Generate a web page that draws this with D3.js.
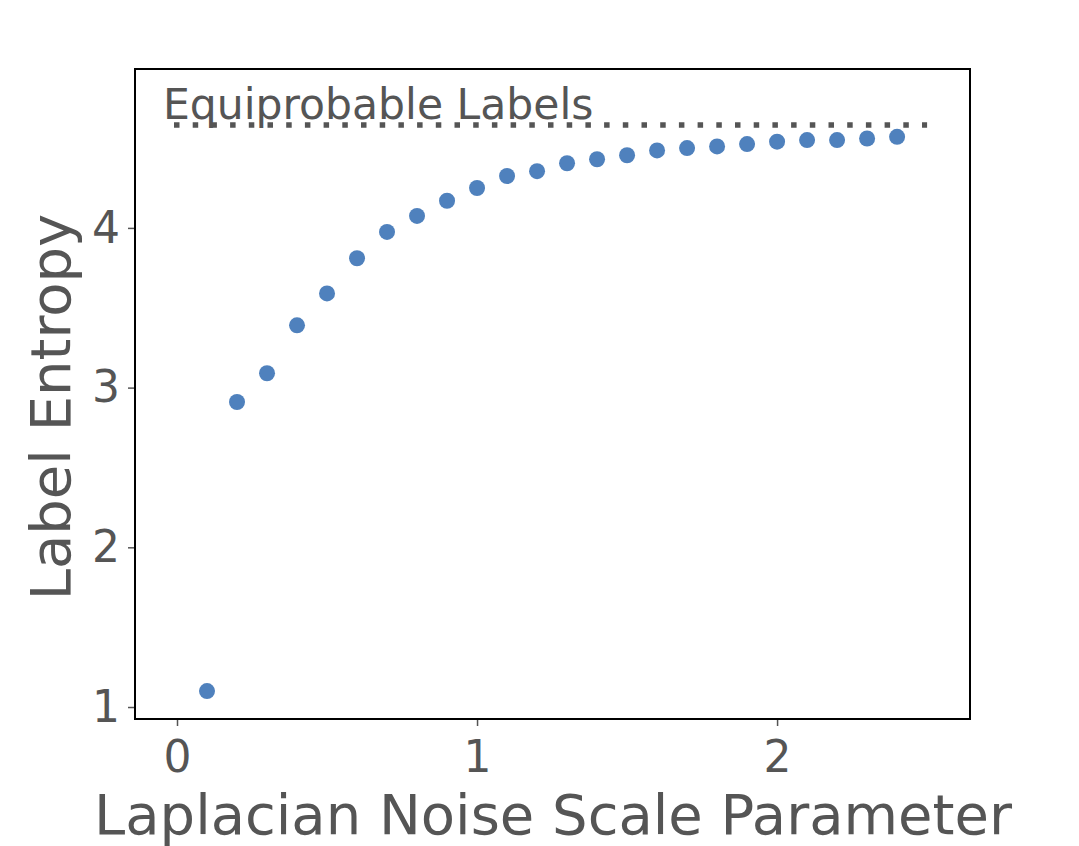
<!DOCTYPE html>
<html>
<head>
<meta charset="utf-8">
<script src="https://cdn.jsdelivr.net/npm/d3@7"></script>
<style>
  body { margin: 0; background: #fff; }
  svg { display: block; font-family: "DejaVu Sans", sans-serif; }
</style>
</head>
<body>
<svg></svg>
<script>
  // noise scale vs entropy of the noisy labels
  var noiseScale = [0.1, 0.2, 0.3, 0.4, 0.5, 0.6, 0.7, 0.8, 0.9, 1.0, 1.1, 1.2,
                    1.3, 1.4, 1.5, 1.6, 1.7, 1.8, 1.9, 2.0, 2.1, 2.2, 2.3, 2.4];
  var entropy = [1.10, 2.91, 3.09, 3.39, 3.59, 3.81, 3.975, 4.075, 4.17, 4.25, 4.325, 4.355,
                 4.405, 4.43, 4.455, 4.485, 4.50, 4.51, 4.525, 4.54, 4.55, 4.55, 4.56, 4.57];
  var maxEntropy = Math.log2(25); // equiprobable labels
  var refRange = [0, 2.5];
  var xTicks = [0, 1, 2];
  var yTicks = [1, 2, 3, 4];

  var width = 1079, height = 846;
  var pLeft = 135, pRight = 970, pTop = 69, pBottom = 719;
  var grey = "#555555";

  var svg = d3.select("svg").attr("width", width).attr("height", height);

  var xScale = d3.scaleLinear().domain([-0.14, 2.643]).range([pLeft, pRight]);
  var yScale = d3.scaleLinear().domain([0.925, 4.995]).range([pBottom, pTop]);

  var xAxis = d3.axisBottom(xScale).tickValues(xTicks).tickFormat(d3.format("d"))
                .tickSize(7).tickPadding(15);
  var yAxis = d3.axisLeft(yScale).tickValues(yTicks).tickFormat(d3.format("d"))
                .tickSize(7).tickPadding(8);

  var gx = svg.append("g").attr("transform", `translate(0,${pBottom})`).call(xAxis);
  var gy = svg.append("g").attr("transform", `translate(${pLeft},0)`).call(yAxis);
  [gx, gy].forEach(function(g) {
    g.select(".domain").remove();
    g.selectAll(".tick line").attr("stroke", grey).attr("stroke-width", 1.5);
    g.selectAll(".tick text").attr("fill", grey).style("font-size", "44px")
      .style("font-family", '"DejaVu Sans", sans-serif');
  });

  // reference line
  svg.append("line")
    .attr("x1", xScale(refRange[0]) - 3)
    .attr("x2", xScale(refRange[1]))
    .attr("y1", yScale(maxEntropy))
    .attr("y2", yScale(maxEntropy))
    .attr("stroke", grey)
    .attr("stroke-width", 5.5)
    .attr("stroke-dasharray", "5.5,13.2");

  svg.append("text")
    .attr("x", 163)
    .attr("y", 119)
    .attr("fill", grey)
    .style("font-size", "42.5px")
    .text("Equiprobable Labels");

  svg.selectAll("circle")
    .data(noiseScale)
    .enter()
      .append("circle")
      .attr("cx", d => xScale(d))
      .attr("cy", (d, i) => yScale(entropy[i]))
      .attr("r", 8)
      .attr("fill", "#4f81bd");

  // frame
  svg.append("rect")
    .attr("x", pLeft).attr("y", pTop)
    .attr("width", pRight - pLeft).attr("height", pBottom - pTop)
    .attr("fill", "none")
    .attr("stroke", "black")
    .attr("stroke-width", 2);

  svg.append("text")
    .attr("x", 553)
    .attr("y", 834)
    .attr("text-anchor", "middle")
    .attr("fill", grey)
    .style("font-size", "56px")
    .text("Laplacian Noise Scale Parameter");

  svg.append("text")
    .attr("transform", "rotate(-90)")
    .attr("x", -407)
    .attr("y", 70)
    .attr("text-anchor", "middle")
    .attr("fill", grey)
    .style("font-size", "56px")
    .text("Label Entropy");
</script>
</body>
</html>
